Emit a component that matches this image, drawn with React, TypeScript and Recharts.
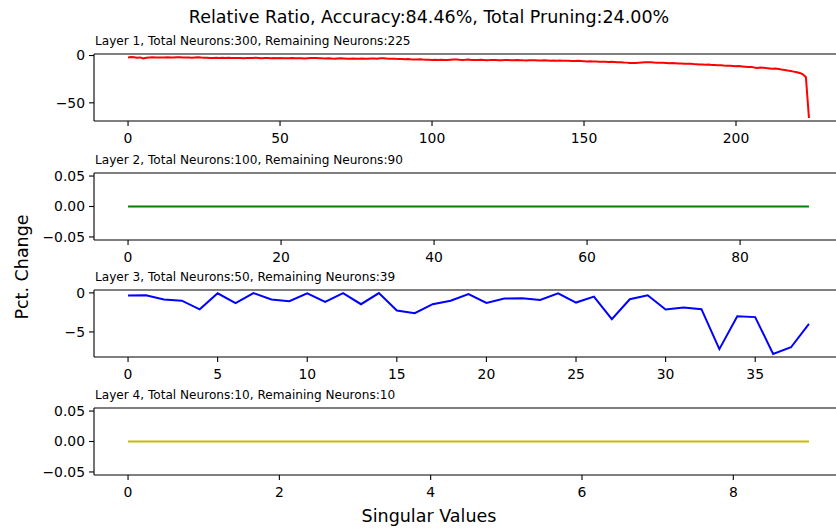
import React from 'react';
import { LineChart, Line, XAxis, YAxis } from 'recharts';

// relative change per singular value, one list per layer
const layer1Values = [
  -2.0, -1.6, -1.8, -2.3, -2.0, -3.2, -2.4, -2.1, -1.9, -2.0,
  -2.1, -2.2, -2.0, -1.9, -2.1, -2.0, -1.8, -1.9, -2.2, -2.0,
  -2.1, -2.3, -2.0, -1.9, -2.2, -2.4, -2.3, -2.5, -2.6, -2.4,
  -2.5, -2.3, -2.6, -2.4, -2.5, -2.7, -2.6, -2.5, -2.8, -2.6,
  -2.7, -2.5, -2.4, -2.6, -2.8, -2.7, -2.6, -2.9, -2.7, -2.8,
  -2.6, -2.9, -3.0, -2.8, -2.7, -3.0, -2.9, -2.8, -3.1, -2.9,
  -2.7, -2.6, -2.5, -2.8, -3.0, -3.1, -2.9, -3.2, -3.3, -3.1,
  -3.0, -3.2, -3.4, -3.3, -3.1, -3.3, -3.5, -3.2, -3.4, -3.3,
  -3.2, -3.1, -3.3, -3.0, -2.9, -3.2, -3.4, -3.3, -3.5, -3.6,
  -3.7, -3.8, -3.6, -3.9, -4.1, -4.2, -4.0, -4.3, -4.5, -4.4,
  -4.6, -4.5, -4.7, -4.4, -4.6, -4.8, -4.5, -4.3, -4.1, -4.4,
  -4.6, -4.5, -4.3, -4.6, -4.8, -4.7, -4.5, -4.6, -4.9, -4.8,
  -4.6, -4.7, -5.0, -4.9, -4.7, -4.8, -5.1, -5.0, -4.8, -4.9,
  -5.1, -5.2, -5.0, -4.9, -5.1, -5.3, -5.2, -5.0, -5.2, -5.4,
  -5.3, -5.5, -5.2, -5.4, -5.6, -5.5, -5.7, -5.9, -5.6, -5.8,
  -6.0, -6.3, -6.1, -6.4, -6.2, -6.5, -6.7, -6.6, -6.8, -6.7,
  -6.9, -7.1, -7.0, -7.3, -7.5, -7.8, -8.0, -7.9, -7.6, -7.4,
  -7.2, -7.0, -7.1, -7.4, -7.6, -7.5, -7.7, -7.9, -8.1, -8.0,
  -8.2, -8.4, -8.3, -8.6, -8.8, -8.7, -9.0, -9.2, -9.4, -9.5,
  -9.7, -9.6, -9.9, -10.1, -10.3, -10.2, -10.5, -10.7, -10.9, -11.1,
  -11.3, -11.2, -11.5, -11.8, -12.2, -12.0, -12.6, -13.1, -12.7, -12.9,
  -13.3, -13.6, -14.0, -13.7, -14.2, -14.8, -15.3, -15.9, -16.4, -17.0,
  -17.6, -18.4, -19.8, -23.0, -66.0,
];

const layer2Values = [
  0, 0, 0, 0, 0, 0, 0, 0, 0, 0,
  0, 0, 0, 0, 0, 0, 0, 0, 0, 0,
  0, 0, 0, 0, 0, 0, 0, 0, 0, 0,
  0, 0, 0, 0, 0, 0, 0, 0, 0, 0,
  0, 0, 0, 0, 0, 0, 0, 0, 0, 0,
  0, 0, 0, 0, 0, 0, 0, 0, 0, 0,
  0, 0, 0, 0, 0, 0, 0, 0, 0, 0,
  0, 0, 0, 0, 0, 0, 0, 0, 0, 0,
  0, 0, 0, 0, 0, 0, 0, 0, 0, 0,
];

const layer3Values = [
  -0.33, -0.3, -0.85, -1.0, -2.1, -0.05, -1.3, -0.02, -0.85, -1.06,
  -0.05, -1.15, -0.02, -1.45, -0.02, -2.26, -2.6, -1.45, -1.0, -0.15,
  -1.28, -0.72, -0.68, -0.9, -0.06, -1.24, -0.47, -3.37, -0.81, -0.3,
  -2.13, -1.87, -2.09, -7.2, -2.99, -3.1, -7.82, -6.96, -3.97,
];

const layer4Values = [0, 0, 0, 0, 0, 0, 0, 0, 0, 0];

const layerTitles = [
  'Layer 1, Total Neurons:300, Remaining Neurons:225',
  'Layer 2, Total Neurons:100, Remaining Neurons:90',
  'Layer 3, Total Neurons:50, Remaining Neurons:39',
  'Layer 4, Total Neurons:10, Remaining Neurons:10',
];
const layerColors = ['#ff0000', '#008000', '#0000ff', '#bfbf00'];
const xTickSets = [
  [0, 50, 100, 150, 200],
  [0, 20, 40, 60, 80],
  [0, 5, 10, 15, 20, 25, 30, 35],
  [0, 2, 4, 6, 8],
];
const yTickSets = [
  [-50, 0],
  [-0.05, 0, 0.05],
  [-5, 0],
  [-0.05, 0, 0.05],
];
const yTickDigits = [0, 2, 0, 2];

const FONT = '"DejaVu Sans", sans-serif';
const PLOT_LEFT = 94;
const PLOT_RIGHT = 843;
const PLOT_H = 67;
const PAD_TOP = 10;
const TOP_AXIS_H = 1;
const X_AXIS_H = 30;
const plotTops = [54, 172.5, 290, 408.3];

const fmt = (digits: number) => (v: number) => {
  const s = Math.abs(v).toFixed(digits);
  return v < 0 ? '\u2212' + s : s;
};

// matplotlib-style autoscale: 5% margin, flat series get +-0.055
function pad(lo: number, hi: number): [number, number] {
  if (lo === hi) return [lo - 0.055, hi + 0.055];
  const m = (hi - lo) * 0.05;
  return [lo - m, hi + m];
}

type PanelProps = {
  values: number[];
  color: string;
  xTicks: number[];
  yTicks: number[];
  digits: number;
  top: number;
};

function Panel({ values, color, xTicks, yTicks, digits, top }: PanelProps) {
  const data = values.map((v, i) => ({ i, v }));
  const xDomain = pad(0, values.length - 1);
  const yDomain = pad(Math.min(...values), Math.max(...values));
  const tickStyle = { fill: '#000', fontSize: 13.9, fontFamily: FONT };
  const spine = { stroke: '#000', strokeWidth: 1.1 };
  return (
    <div style={{ position: 'absolute', left: 0, top: top - PAD_TOP }}>
      <LineChart
        width={PLOT_RIGHT}
        height={PAD_TOP + PLOT_H + X_AXIS_H}
        data={data}
        margin={{ top: PAD_TOP - TOP_AXIS_H, right: 0, bottom: 0, left: 0 }}
      >
        <XAxis
          dataKey="i"
          type="number"
          domain={xDomain}
          ticks={xTicks}
          allowDataOverflow
          height={X_AXIS_H}
          tickSize={5}
          tickMargin={7}
          tick={tickStyle}
          axisLine={spine}
          tickLine={spine}
          interval={0}
        />
        <XAxis
          xAxisId="top"
          dataKey="i"
          orientation="top"
          type="number"
          domain={xDomain}
          allowDataOverflow
          height={TOP_AXIS_H}
          tick={false}
          tickLine={false}
          axisLine={spine}
        />
        <YAxis
          type="number"
          domain={yDomain}
          ticks={yTicks}
          allowDataOverflow
          width={PLOT_LEFT}
          tickSize={5}
          tickMargin={4}
          tick={tickStyle}
          tickFormatter={fmt(digits)}
          axisLine={spine}
          tickLine={spine}
          interval={0}
        />
        <Line
          type="linear"
          dataKey="v"
          stroke={color}
          strokeWidth={2}
          dot={false}
          isAnimationActive={false}
        />
      </LineChart>
    </div>
  );
}

const seriesList = [layer1Values, layer2Values, layer3Values, layer4Values];

export default function App() {
  return (
    <div
      style={{
        position: 'absolute',
        left: 0,
        top: 0,
        width: 836,
        height: 531,
        overflow: 'hidden',
        background: '#fff',
      }}
    >
      {seriesList.map((values, k) => (
        <Panel
          key={k}
          values={values}
          color={layerColors[k]}
          xTicks={xTickSets[k]}
          yTicks={yTickSets[k]}
          digits={yTickDigits[k]}
          top={plotTops[k]}
        />
      ))}
      <svg
        width={836}
        height={531}
        style={{ position: 'absolute', left: 0, top: 0, pointerEvents: 'none' }}
        fontFamily={FONT}
      >
        <text x={429} y={23} textAnchor="middle" fontSize={17.5} fill="#000">
          Relative Ratio, Accuracy:84.46%, Total Pruning:24.00%
        </text>
        {layerTitles.map((t, k) => (
          <text key={t} x={PLOT_LEFT + 1} y={plotTops[k] - 9} fontSize={12.1} fill="#000">
            {t}
          </text>
        ))}
        <text x={429} y={522} textAnchor="middle" fontSize={17.5} fill="#000">
          Singular Values
        </text>
        <text
          x={0}
          y={0}
          transform="translate(28, 267) rotate(-90)"
          textAnchor="middle"
          fontSize={17.5}
          fill="#000"
        >
          Pct. Change
        </text>
      </svg>
    </div>
  );
}
